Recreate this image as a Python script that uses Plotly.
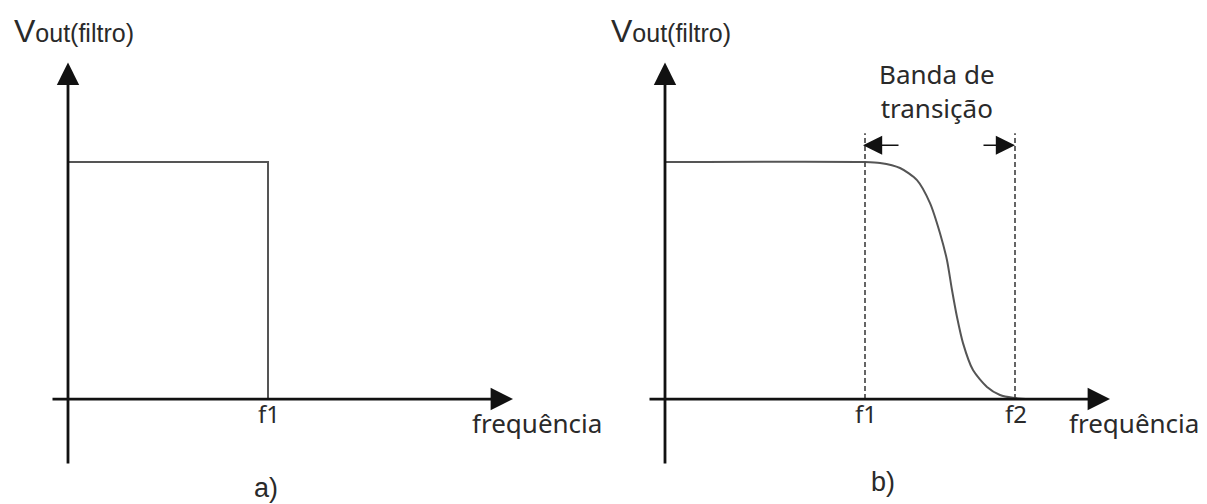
import plotly.graph_objects as go

# Cut-off frequencies (f1, f2) and passband level
f1, f2 = 2.0, 3.5
passband = 1.0

# a) ideal low-pass response
ideal_freq = [0.0, f1, f1]
ideal_vout = [passband, passband, 0.0]

# b) real low-pass response with a transition band
real_freq = [0.0, 2.0, 2.15, 2.35, 2.52, 2.65, 2.75, 2.82, 2.87, 2.92, 2.98, 3.08, 3.22, 3.35, 3.48, 3.65]
real_vout = [1.0, 1.0, 0.996, 0.975, 0.924, 0.827, 0.70, 0.586, 0.46, 0.346, 0.236, 0.122, 0.051, 0.017, 0.005, 0.0]

tick_labels_a = ["f1"]
tick_labels_b = ["f1", "f2"]
x_title = "frequência"
y_title = "V<span style='font-size:25px'>out(filtro)</span>"
band_label = "Banda de<br>transição"
panel_labels = ["a)", "b)"]

W, H = 1207, 504
AXIS_COLOR = "#111111"
CURVE_COLOR = "#555555"
DASH_COLOR = "#4a4a4a"
SANS = "Liberation Sans, Arial, sans-serif"
BODY = "Noto Sans, Open Sans, sans-serif"

# Axis extents (data units)
x_min, x_tip = -0.17, 4.45
y_min, y_tip = -0.278, 1.42
dash_top = 1.122
band_y = 1.071

fig = go.Figure()

fig.add_trace(go.Scatter(x=ideal_freq, y=ideal_vout, mode="lines",
                         line=dict(color=CURVE_COLOR, width=2),
                         xaxis="x", yaxis="y", hoverinfo="skip"))
fig.add_trace(go.Scatter(x=real_freq, y=real_vout, mode="lines",
                         line=dict(color=CURVE_COLOR, width=2, shape="spline", smoothing=0.7),
                         xaxis="x2", yaxis="y2", hoverinfo="skip"))

# Dashed markers at f1 and f2 in panel b
for f in (f1, f2):
    fig.add_shape(type="line", xref="x2", yref="y2", x0=f, x1=f, y0=0, y1=dash_top,
                  line=dict(color=DASH_COLOR, width=1.7, dash="5px,3px"))

ann = []

def arrow(xr, yr, x, y, ax, ay, width, size):
    ann.append(dict(xref=xr, yref=yr, axref=xr, ayref=yr, x=x, y=y, ax=ax, ay=ay,
                    text="", showarrow=True, arrowhead=2, arrowwidth=width,
                    arrowsize=size, arrowcolor=AXIS_COLOR, standoff=0, startstandoff=0))

def label(xr, yr, x, y, text, size, family, xanchor="center", yanchor="middle", color="#2a2a2a"):
    ann.append(dict(xref=xr, yref=yr, x=x, y=y, text=text, showarrow=False,
                    xanchor=xanchor, yanchor=yanchor,
                    font=dict(size=size, family=family, color=color)))

for xr, yr, ticks, tick_x in (("x", "y", tick_labels_a, [f1]),
                              ("x2", "y2", tick_labels_b, [f1, f2])):
    # coordinate axes with arrowheads
    arrow(xr, yr, x_tip, 0, x_min, 0, 2.8, 1.6)
    arrow(xr, yr, 0, y_tip, 0, y_min, 2.8, 1.6)
    for t, fx in zip(ticks, tick_x):
        label(xr, yr, fx + 0.01, -0.063, t, 24, BODY)
    label(xr, yr, 4.69, -0.1, x_title, 26, BODY)
    label(xr, yr, -0.56, 1.553, y_title, 32, SANS, xanchor="left")

# transition band arrows and caption
arrow("x2", "y2", f1 - 0.02, band_y, 2.35, band_y, 1.6, 2.4)
arrow("x2", "y2", f2, band_y, 3.17, band_y, 1.6, 2.4)
label("x2", "y2", 2.72, 1.30, band_label, 26, BODY)

label("x", "y", 1.98, -0.376, panel_labels[0], 27, SANS)
label("x2", "y2", 2.18, -0.35, panel_labels[1], 27, SANS)

fig.update_layout(
    width=W, height=H,
    margin=dict(l=0, r=0, t=0, b=0),
    paper_bgcolor="white", plot_bgcolor="white",
    showlegend=False,
    annotations=ann,
    xaxis=dict(domain=[0, 0.5], range=[-0.68, 5.355], visible=False, fixedrange=True),
    xaxis2=dict(domain=[0.5, 1], range=[-0.615, 5.42], visible=False, fixedrange=True),
    yaxis=dict(domain=[0, 1], range=[-0.443, 1.684], visible=False, fixedrange=True),
    yaxis2=dict(domain=[0, 1], range=[-0.443, 1.684], visible=False, fixedrange=True,
                anchor="x2"),
)

fig.write_html("out.html", config={"displayModeBar": False})
